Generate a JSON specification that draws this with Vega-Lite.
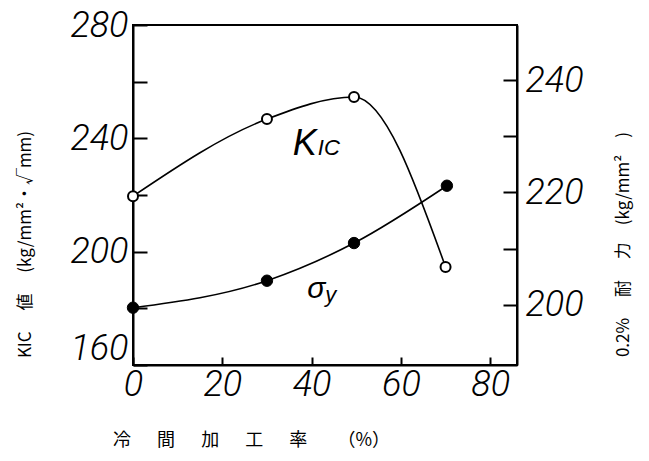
{
  "$schema": "https://vega.github.io/schema/vega-lite/v6.json",
  "width": 384,
  "height": 340,
  "autosize": {"type": "none"},
  "padding": {"left": 133, "top": 25, "right": 132, "bottom": 96},
  "background": "white",
  "config": {
    "view": {"stroke": "black", "strokeWidth": 2},
    "axis": {
      "grid": false,
      "domainColor": "black",
      "domainWidth": 2,
      "tickColor": "black",
      "tickWidth": 2,
      "labelFont": "Roboto",
      "labelFontStyle": "italic",
      "labelFontWeight": 300,
      "labelFontSize": 36,
      "labelColor": "black",
      "titleFont": "Noto Sans CJK JP",
      "titleFontWeight": "normal",
      "titleFontSize": 16,
      "titleColor": "black"
    }
  },
  "datasets": {
    "kic": [
      {"x": 0, "v": 219.6},
      {"x": 30, "v": 246.8},
      {"x": 49.5, "v": 254.6},
      {"x": 70, "v": 194.6}
    ],
    "sy": [
      {"x": 0, "v": 199.5},
      {"x": 30, "v": 204.3},
      {"x": 49.5, "v": 211.0},
      {"x": 70.3, "v": 221.2}
    ],
    "kicLabel": [{"x": 35.8, "v": 234.1}],
    "syLabel": [{"x": 39.0, "v": 201.2}]
  },
  "resolve": {"scale": {"y": "independent"}, "axis": {"y": "independent"}},
  "layer": [
    {
      "encoding": {
        "x": {
          "field": "x", "type": "quantitative",
          "scale": {"domain": [0, 86], "nice": false, "zero": false},
          "axis": {
            "values": [0, 20, 40, 60, 80],
            "tickSize": -8,
            "labelPadding": 10,
            "labelAlign": "center",
            "title": "冷\u3000\u00a0\u00a0間\u3000\u00a0\u00a0加\u3000\u00a0\u00a0工\u3000\u00a0\u00a0率\u3000\u00a0\u00a0\u00a0（%）",
            "titleX": 118,
            "titleY": 75,
            "titleAlign": "center",
            "titleBaseline": "middle",
            "titleFontSize": 18
          }
        },
        "y": {
          "field": "v", "type": "quantitative",
          "scale": {"domain": [160, 280], "nice": false, "zero": false},
          "axis": {
            "orient": "left",
            "values": [160, 180, 200, 220, 240, 260, 280],
            "labelExpr": "datum.value % 40 == 0 ? datum.label : ''",
            "labelOffset": {"condition": {"test": "datum.value == 160", "value": -17}, "value": 0},
            "tickSize": -14,
            "labelPadding": 19,
            "title": "KIC\u3000\u00a0値\u3000\u00a0(kg/mm²・√mm)",
            "titleFontSize": 17,
            "titleAngle": -90,
            "titleX": -108,
            "titleY": 219,
            "titleAlign": "center",
            "titleBaseline": "middle"
          }
        }
      },
      "layer": [
        {
          "data": {"name": "kic"},
          "mark": {"type": "line", "interpolate": "monotone", "color": "black", "strokeWidth": 1.6}
        },
        {
          "data": {"name": "kic"},
          "mark": {"type": "point", "shape": "circle", "filled": true, "fill": "white", "stroke": "black", "strokeWidth": 2, "size": 100, "opacity": 1}
        },
        {
          "data": {"name": "kicLabel"},
          "mark": {"type": "text", "text": "K", "align": "left", "baseline": "alphabetic", "font": "Liberation Sans", "fontStyle": "italic", "fontSize": 36, "color": "black"}
        },
        {
          "data": {"name": "kicLabel"},
          "mark": {"type": "text", "text": "IC", "align": "left", "baseline": "alphabetic", "dx": 25, "font": "Liberation Sans", "fontStyle": "italic", "fontSize": 22, "color": "black"}
        }
      ]
    },
    {
      "encoding": {
        "x": {"field": "x", "type": "quantitative"},
        "y": {
          "field": "v", "type": "quantitative",
          "scale": {"domain": [189.3, 249.8], "nice": false, "zero": false},
          "axis": {
            "orient": "right",
            "values": [200, 210, 220, 230, 240],
            "labelExpr": "datum.value % 20 == 0 ? datum.label : ''",
            "tickSize": -14,
            "labelPadding": 22,
            "title": "0.2%\u3000\u00a0耐\u3000\u00a0力\u3000(kg/mm²\u3000)",
            "titleFontSize": 17,
            "titleAngle": -90,
            "titleX": 106,
            "titleY": 219,
            "titleAlign": "center",
            "titleBaseline": "middle"
          }
        }
      },
      "layer": [
        {
          "data": {"name": "sy"},
          "mark": {"type": "line", "interpolate": "monotone", "color": "black", "strokeWidth": 1.6}
        },
        {
          "data": {"name": "sy"},
          "mark": {"type": "point", "shape": "circle", "filled": true, "fill": "black", "stroke": "black", "strokeWidth": 1, "size": 130, "opacity": 1}
        },
        {
          "data": {"name": "syLabel"},
          "mark": {"type": "text", "text": "σ", "align": "left", "baseline": "alphabetic", "font": "Liberation Sans", "fontStyle": "italic", "fontSize": 30, "color": "black"}
        },
        {
          "data": {"name": "syLabel"},
          "mark": {"type": "text", "text": "y", "align": "left", "baseline": "alphabetic", "dx": 18, "dy": 4, "font": "Liberation Sans", "fontStyle": "italic", "fontSize": 22, "color": "black"}
        }
      ]
    }
  ]
}
